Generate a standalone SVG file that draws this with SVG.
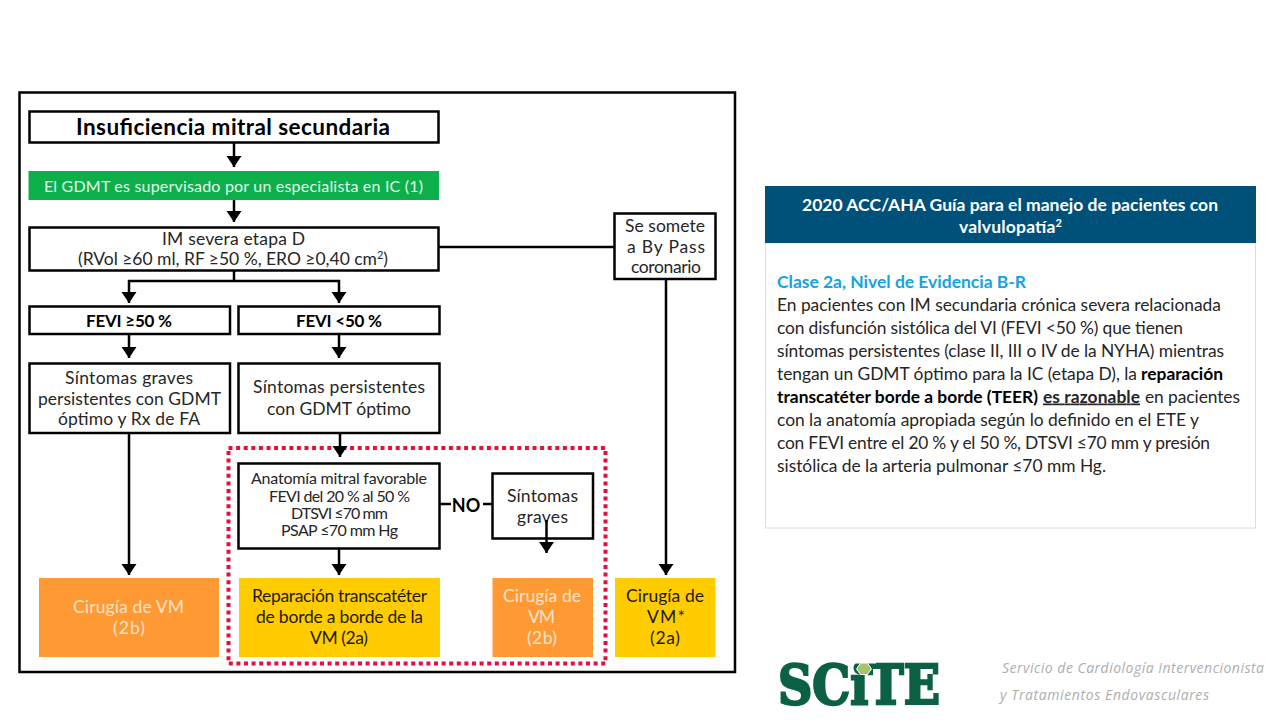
<svg xmlns="http://www.w3.org/2000/svg" width="1280" height="720" viewBox="0 0 1280 720">
<style>
text{font-family:Lato,"Open Sans","Liberation Sans",sans-serif;fill:#262626;font-size:17.5px}
.c{text-anchor:middle}
.b{fill:none;stroke:#000;stroke-width:2.5}
.w{fill:#fff;stroke:#000;stroke-width:2.5}
.l{fill:none;stroke:#000;stroke-width:2.5}
.a{marker-end:url(#arr)}
.bold{font-weight:700}
.blk{fill:#000}
.wt{fill:#fff}
.or{fill:#ff9933}
.ye{fill:#ffcc00}
.ot{fill:#fde3c8}
.dk{fill:#1f1a00}
.body{font-size:17.4px}
.sm{font-size:16px}
.foot{font-family:"Open Sans",sans-serif;font-style:italic;fill:#aeaeae;font-size:14px}
</style>
<defs>
<marker id="arr" markerUnits="userSpaceOnUse" markerWidth="12" markerHeight="16" refX="11" refY="7.5" orient="auto"><path d="M0 0L11 7.5L0 15z" fill="#000"/></marker>
</defs>
<rect width="1280" height="720" fill="#fff"/>
<rect id="frame" x="19.5" y="92.5" width="715.5" height="579.5" class="b"/>
<rect id="dotted" x="228.5" y="448" width="377" height="215.500" fill="none" stroke="#e0103f" stroke-width="4" stroke-dasharray="4 3.6"/>

<g id="n-title"><rect class="w" x="29.5" y="111.5" width="409" height="31"/><text class="c bold blk" x="233" y="134.500" style="font-size:22.5px" textLength="314">Insuficiencia mitral secundaria</text></g>
<g id="n-gdmt"><rect x="28.5" y="171" width="410.500" height="29" fill="#0bb04b"/><text class="c sm" x="233.500" y="192" style="fill:#e6f7ec" textLength="379">El GDMT es supervisado por un especialista en IC (1)</text></g>
<g id="n-im"><rect class="w" x="29.5" y="227.5" width="409" height="43"/><text class="c" x="233.5" y="245" textLength="143">IM severa etapa D</text><text class="c" x="233" y="265" textLength="310">(RVol ≥60 ml, RF ≥50 %, ERO ≥0,40 cm<tspan dy="-6" style="font-size:11px">2</tspan><tspan dy="6">)</tspan></text></g>
<g id="n-fevi1"><rect class="w" x="29.5" y="306.5" width="200.5" height="27.5"/><text class="c bold blk" x="129" y="327" style="font-size:17px" textLength="86">FEVI ≥50 %</text></g>
<g id="n-fevi2"><rect class="w" x="238.5" y="306.5" width="201" height="27.5"/><text class="c bold blk" x="339" y="327" style="font-size:17px" textLength="86">FEVI &lt;50 %</text></g>
<g id="n-sint1"><rect class="w" x="29.5" y="363.5" width="200.5" height="69.5"/><text class="c" x="129" y="384" textLength="128">Síntomas graves</text><text class="c" x="129.500" y="405" textLength="183">persistentes con GDMT</text><text class="c" x="129" y="425" textLength="142">óptimo y Rx de FA</text></g>
<g id="n-sint2"><rect class="w" x="238.5" y="363.5" width="201" height="69.5"/><text class="c" x="339" y="393" textLength="172">Síntomas persistentes</text><text class="c" x="339" y="415" textLength="144">con GDMT óptimo</text></g>
<g id="n-anat"><rect class="w" x="238.5" y="463.5" width="201" height="85"/><text class="c sm" x="339" y="484" textLength="176">Anatomía mitral favorable</text><text class="c sm" x="339.500" y="502" textLength="141">FEVI del 20 % al 50 %</text><text class="c sm" x="339.500" y="519" textLength="97">DTSVI ≤70 mm</text><text class="c sm" x="339.500" y="536" textLength="117">PSAP ≤70 mm Hg</text></g>
<g id="n-no"><text class="c bold blk" x="466" y="512" style="font-size:18px">NO</text></g>
<g id="n-graves"><rect class="w" x="492.5" y="473.5" width="100.5" height="65"/><text class="c" x="542.500" y="502" textLength="71">Síntomas</text><text class="c" x="542.500" y="523" textLength="51">graves</text></g>
<g id="n-cir1"><rect class="or" x="39" y="578" width="180" height="79"/><text class="c ot" x="128.500" y="613" textLength="111">Cirugía de VM</text><text class="c ot" x="129" y="634" textLength="32">(2b)</text></g>
<g id="n-rep"><rect class="ye" x="239" y="578" width="201" height="79"/><text class="c dk" x="339.500" y="602" textLength="175">Reparación transcatéter</text><text class="c dk" x="339.500" y="623" textLength="167">de borde a borde de la</text><text class="c dk" x="339" y="644" textLength="58">VM (2a)</text></g>
<g id="n-cir2"><rect class="or" x="492.5" y="578" width="100.5" height="79"/><text class="c ot" x="542" y="602" textLength="78">Cirugía de</text><text class="c ot" x="541.500" y="623" textLength="27">VM</text><text class="c ot" x="542" y="644" textLength="30">(2b)</text></g>
<g id="n-cir3"><rect class="ye" x="615" y="578" width="100.5" height="79"/><text class="c dk" x="665" y="602" textLength="78">Cirugía de</text><text class="c dk" x="666" y="623" textLength="38">VM*</text><text class="c dk" x="665" y="644" textLength="30">(2a)</text></g>
<g id="n-bypass"><rect class="w" x="614.5" y="213.5" width="101" height="65.5"/><text class="c" x="665" y="232" textLength="80">Se somete</text><text class="c" x="666" y="253" textLength="78">a By Pass</text><text class="c" x="666" y="273" textLength="70">coronario</text></g>

<g id="connectors">
<path class="l a" d="M234 142V167"/>
<path class="l a" d="M234 200V222"/>
<path class="l" d="M234 270V281"/>
<path class="l a" d="M234 281H129V303"/>
<path class="l a" d="M234 281H339V303"/>
<path class="l a" d="M129 334V358"/>
<path class="l a" d="M339 334V358"/>
<path class="l a" d="M129 433V575"/>
<path class="l a" d="M340 433V457"/>
<path class="l a" d="M339 548V575"/>
<path class="l" d="M439 247H614"/>
<path class="l a" d="M666 279V575"/>
<path class="l" d="M440 504H451M483 504H492"/>
<path class="l a" d="M546.500 520V553"/>
</g>

<g id="panel">
<rect x="765.5" y="243" width="490" height="285" fill="#fff" stroke="#dcdcdc" stroke-width="1"/>
<rect x="765" y="186" width="491" height="57" fill="#00517a"/>
<text class="c bold wt" x="1010" y="210.500" textLength="416">2020 ACC/AHA Guía para el manejo de pacientes con</text>
<text class="c bold wt" x="1010.500" y="233" textLength="103">valvulopatía<tspan dy="-6" style="font-size:11px;fill:#fff">2</tspan></text>
<text class="bold" x="777" y="287.500" style="fill:#14a3e0" textLength="249">Clase 2a, Nivel de Evidencia B-R</text>
<text class="body" x="777" y="310.500" textLength="444">En pacientes con IM secundaria crónica severa relacionada</text>
<text class="body" x="777" y="333.500" textLength="406">con disfunción sistólica del VI (FEVI &lt;50 %) que tienen</text>
<text class="body" x="777" y="356.500" textLength="447">síntomas persistentes (clase II, III o IV de la NYHA) mientras</text>
<text class="body" x="777" y="379.500" textLength="360">tengan un GDMT óptimo para la IC (etapa D), la</text>
<text class="body bold blk" x="1141" y="379.500" textLength="82">reparación</text>
<text class="body bold blk" x="777" y="402.500" textLength="261">transcatéter borde a borde (TEER)</text>
<text class="body bold" x="1043" y="402.500" textLength="97" text-decoration="underline">es razonable</text>
<text class="body" x="1145" y="402.500" textLength="95">en pacientes</text>
<text class="body" x="777" y="425.500" textLength="422">con la anatomía apropiada según lo definido en el ETE y</text>
<text class="body" x="777" y="448.500" textLength="433">con FEVI entre el 20 % y el 50 %, DTSVI ≤70 mm y presión</text>
<text class="body" x="777" y="471.500" textLength="329">sistólica de la arteria pulmonar ≤70 mm Hg.</text>
</g>

<g id="logo">
<text x="778" y="704" style="font-family:'DejaVu Serif',serif;font-weight:700;font-size:55px;fill:#0b6045;stroke:#0b6045;stroke-width:2.5" textLength="162" lengthAdjust="spacingAndGlyphs">SCiTE</text>
<rect x="852" y="655" width="24" height="8.500" fill="#fff"/>
<polygon points="856.500,669 860.500,663 867.500,663 871.500,669 867.500,674.500 860.500,674.500" fill="#a6c46a" stroke="#fff" stroke-width="1"/>
<text class="foot" x="1002" y="673" textLength="262">Servicio de Cardiología Intervencionista</text>
<text class="foot" x="1000" y="700" textLength="209">y Tratamientos Endovasculares</text>
</g>
</svg>
